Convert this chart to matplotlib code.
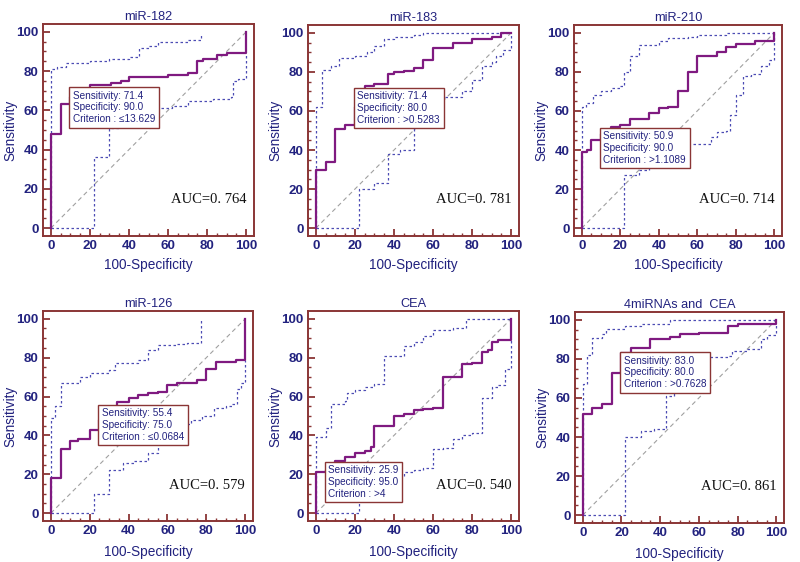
import matplotlib
matplotlib.use("Agg")
import matplotlib.pyplot as plt
from matplotlib.ticker import MultipleLocator

# ---------------- data ----------------
titles = ["miR-182", "miR-183", "miR-210", "miR-126", "CEA", "4miRNAs and  CEA"]
auc_labels = ["AUC=0. 764", "AUC=0. 781", "AUC=0. 714", "AUC=0. 579", "AUC=0. 540", "AUC=0. 861"]
sens_vals = ["71.4", "71.4", "50.9", "55.4", "25.9", "83.0"]
spec_vals = ["90.0", "80.0", "90.0", "75.0", "95.0", "80.0"]
crit_vals = ["\u226413.629", ">0.5283", ">1.1089", "\u22640.0684", ">4", ">0.7628"]

# ROC curves (x = 100-Specificity where sensitivity jumps, y = new sensitivity)
roc1_x = [0, 0, 5, 10, 15, 20, 31, 36, 40, 60, 70, 75, 78, 85, 90, 100]
roc1_y = [0, 48, 63, 67, 70, 73, 74, 75, 77, 78, 79, 85, 86, 88, 89, 100]
up1_x = [0, 0, 3, 8, 20, 30, 40, 45, 50, 55, 70, 77]
up1_y = [0, 81, 82, 84, 85, 86, 87, 92, 93, 95, 96, 99]
lo1_x = [0, 22, 30, 35, 45, 55, 62, 70, 83, 92, 93, 96, 100, 100]
lo1_y = [0, 36, 51, 53, 57, 61, 62, 65, 66, 67, 75, 76, 80, 88]

roc2_x = [0, 0, 5, 10, 15, 20, 22, 25, 30, 37, 40, 45, 50, 55, 60, 70, 80, 90, 95, 100]
roc2_y = [0, 30, 34, 51, 53, 62, 70, 73, 74, 79, 80, 80.5, 82, 86, 92, 95, 97, 98, 100, 100]
up2_x = [0, 0, 3, 3, 8, 12, 20, 26, 30, 35, 40, 50, 55, 100]
up2_y = [0, 62, 65, 81, 83, 87, 88, 90, 93, 97, 98, 99, 100, 100]
lo2_x = [0, 22, 30, 37, 43, 50, 55, 60, 63, 65, 75, 80, 85, 90, 92, 96, 100]
lo2_y = [0, 20, 23, 38, 40, 53, 60, 64, 66, 67, 70, 76, 83, 85, 88, 91, 100]

roc3_x = [0, 0, 3, 5, 10, 15, 20, 25, 35, 40, 45, 50, 55, 60, 70, 75, 80, 90, 100]
roc3_y = [0, 39, 40, 45, 48, 52, 53, 56, 59, 61.5, 62, 70, 80, 88, 90, 92.5, 94.5, 96, 100]
up3_x = [0, 0, 2, 6, 10, 15, 20, 22, 25, 30, 40, 45, 55, 60, 75, 100]
up3_y = [0, 62, 64, 68, 70, 72, 73, 80, 88, 94, 96, 97.5, 98, 99, 100, 100]
lo3_x = [0, 22, 30, 35, 45, 55, 67, 70, 75, 77, 80, 84, 88, 93, 97, 100]
lo3_y = [0, 27, 30, 35, 40, 43, 46.5, 49, 50, 58, 68, 78, 79, 83, 86, 100]

roc4_x = [0, 0, 5, 10, 14, 20, 25, 30, 34, 40, 45, 50, 55, 60, 65, 75, 80, 85, 95, 100]
roc4_y = [0, 18, 33, 37, 38, 43, 48, 54, 57, 59, 61, 62, 62.5, 66, 67, 68.5, 74, 78, 79, 100]
up4_x = [0, 0, 2, 5, 15, 20, 30, 33, 45, 50, 55, 65, 70, 77]
up4_y = [0, 49, 55, 67, 70, 72, 73.5, 77, 79, 84, 86.5, 87, 87.5, 100]
lo4_x = [0, 22, 30, 37, 43, 50, 55, 60, 68, 72, 78, 84, 90, 93, 96, 98, 100]
lo4_y = [0, 10, 22, 26, 27, 31, 37, 42, 46, 48, 50, 54, 55, 56, 64, 67, 79]

roc5_x = [0, 0, 5, 10, 15, 20, 25, 28, 30, 40, 45, 50, 55, 60, 65, 75, 80, 85, 88, 90, 93, 100]
roc5_y = [0, 21, 22, 27, 29, 31, 32, 34, 45, 50, 51, 53, 53.5, 54, 70, 76.5, 77, 83, 84, 88, 89, 100]
up5_x = [0, 0, 5, 8, 15, 16, 20, 25, 30, 35, 45, 50, 55, 60, 70, 77, 100]
up5_y = [0, 39, 44, 56, 57.5, 62, 63.5, 65, 66.5, 81, 86, 88, 91, 94, 95, 100, 100]
lo5_x = [0, 22, 30, 35, 40, 45, 50, 55, 60, 65, 70, 75, 80, 85, 85, 90, 90, 93, 97, 100]
lo5_y = [0, 8, 12, 16, 19, 21, 22, 23, 33, 33.5, 38, 40, 41, 42, 59, 59, 65, 66, 74, 89]

roc6_x = [0, 0, 5, 10, 15, 20, 25, 35, 45, 50, 60, 75, 80, 100]
roc6_y = [0, 52, 55, 57, 73, 83, 85.5, 90, 91, 92.5, 93.5, 97, 98, 100]
up6_x = [0, 0, 2, 5, 10, 12, 22, 30, 45, 100]
up6_y = [0, 67, 82, 90.5, 92.5, 95.5, 97, 98, 100, 100]
lo6_x = [0, 22, 30, 37, 43, 47, 55, 64, 75, 77, 85, 92, 95, 100]
lo6_y = [0, 40, 43, 44, 61, 63, 72, 81, 81.5, 84, 85, 90, 92, 98]

rocs = [(roc1_x, roc1_y), (roc2_x, roc2_y), (roc3_x, roc3_y),
        (roc4_x, roc4_y), (roc5_x, roc5_y), (roc6_x, roc6_y)]
uppers = [(up1_x, up1_y), (up2_x, up2_y), (up3_x, up3_y),
          (up4_x, up4_y), (up5_x, up5_y), (up6_x, up6_y)]
lowers = [(lo1_x, lo1_y), (lo2_x, lo2_y), (lo3_x, lo3_y),
          (lo4_x, lo4_y), (lo5_x, lo5_y), (lo6_x, lo6_y)]

# ---------------- style ----------------
plt.rcParams['font.family'] = ['Liberation Sans', 'DejaVu Sans']
NAVY = '#22227f'
FRAME = '#8a3535'
ROC_C = '#7f1a80'
CI_C = '#4c4cb4'
DIAG_C = '#a0a0a0'

W, H = 800, 562
fig = plt.figure(figsize=(8, 5.62), dpi=100)

# axes frames in pixels: (left, top, right, bottom)
frames = [(43, 24, 254, 236), (308, 25, 519, 236), (574, 25, 782, 236),
          (43, 311, 253, 521), (308, 311, 519, 521), (575, 312, 784, 523)]

for i, (l, t, r, b) in enumerate(frames):
    wpx, hpx = r - l, b - t
    ax = fig.add_axes([l / W, (H - b) / H, wpx / W, hpx / H])
    ax.set_xlim(-4, 104)
    ax.set_ylim(-4, 104)
    for s in ax.spines.values():
        s.set_color(FRAME)
        s.set_linewidth(1.4)
    ax.xaxis.set_major_locator(MultipleLocator(20))
    ax.yaxis.set_major_locator(MultipleLocator(20))
    ax.xaxis.set_minor_locator(MultipleLocator(5))
    ax.yaxis.set_minor_locator(MultipleLocator(5))
    ax.tick_params(which='major', direction='in', length=5, width=1.3,
                   color=FRAME, labelcolor=NAVY, labelsize=9.6, pad=3)
    ax.tick_params(which='minor', direction='in', length=2.5, width=1.0, color=FRAME)
    for lab in ax.get_xticklabels() + ax.get_yticklabels():
        lab.set_fontweight('bold')

    # diagonal
    ax.plot([0, 100], [0, 100], color=DIAG_C, lw=0.8, ls=(0, (4, 3)))
    # confidence bounds
    ux, uy = uppers[i]
    lx, ly = lowers[i]
    ax.step(ux, uy, where='post', color=CI_C, lw=0.9, ls=(0, (2, 2)))
    ax.step(lx, ly, where='post', color=CI_C, lw=0.9, ls=(0, (2, 2)))
    # ROC
    rx, ry = rocs[i]
    ax.step(rx, ry, where='post', color=ROC_C, lw=1.6)

    # annotation box anchored at the optimal point
    px = 100 - float(spec_vals[i])
    py = float(sens_vals[i])
    txt = "Sensitivity: %s\nSpecificity: %s\nCriterion : %s" % (sens_vals[i], spec_vals[i], crit_vals[i])
    ax.text(px + 1.3, py - 1.3, txt, ha='left', va='top', fontsize=7.2, color=NAVY,
            linespacing=1.22, zorder=5,
            bbox=dict(boxstyle='square,pad=0.35', facecolor='white', edgecolor=FRAME, linewidth=1.0))

    ax.text(100, 14.5, auc_labels[i], ha='right', va='center', fontsize=10.5,
            family=['Liberation Serif', 'DejaVu Serif'], color='#111111')

    ax.set_title(titles[i], fontsize=9.2, color=NAVY, pad=3)
    ax.set_xlabel("100-Specificity", fontsize=9.8, color=NAVY)
    ax.set_ylabel("Sensitivity", fontsize=9.8, color=NAVY)
    ax.xaxis.set_label_coords(0.5, -(22 if i < 3 else 24) / hpx)
    ax.yaxis.set_label_coords(-26 / wpx, 0.5)

fig.savefig("out.png", dpi=100)
